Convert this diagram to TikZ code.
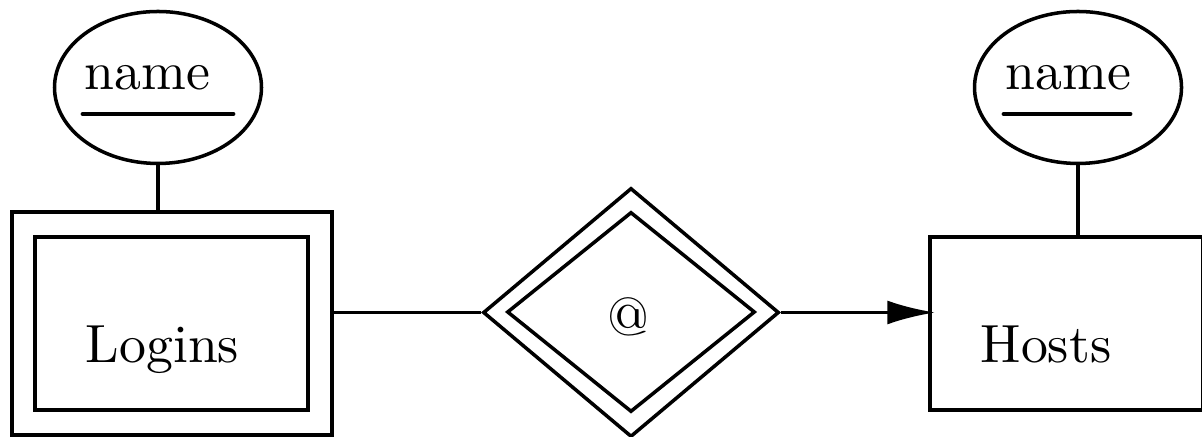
\documentclass[tikz,border=0pt]{standalone}
\usepackage{amsmath}
\usepackage{fontspec}
\newfontfamily\ermfont{lmroman10-regular.otf}
\usetikzlibrary{calc, arrows.meta, shapes.geometric}

\begin{document}
\begin{tikzpicture}[line width=1pt, font=\ermfont\fontsize{15.3}{18}\selectfont,
  attr/.style={draw, ellipse, inner sep=0pt, minimum width=2.07cm, minimum height=1.52cm},
  ent/.style={draw, rectangle, inner sep=0pt},
  rel/.style={draw, diamond, inner sep=0pt},
  lbl/.style={anchor=base west, inner sep=0pt}]
  \useasboundingbox (0,0) rectangle (12.02,4.37);
  % weak entity Logins (double box)
  \node[ent, minimum width=3.20cm, minimum height=2.23cm] (logins) at (1.72,1.135) {};
  \node[ent, minimum width=2.73cm, minimum height=1.73cm] (loginsin) at (1.715,1.135) {};
  \node[lbl] (loginstxt) at (0.84,0.74) {Logins};
  % entity Hosts, cut off at the right edge
  \node[ent, minimum width=2.73cm, minimum height=1.73cm] (hosts) at (10.665,1.135) {};
  \node[lbl] (hoststxt) at (9.79,0.74) {Hosts};
  % identifying relationship @
  \node[rel, minimum width=2.96cm, minimum height=2.49cm] (atrel) at (6.31,1.245) {};
  \node[rel, minimum width=2.48cm, minimum height=2.00cm] (atrelin) at (6.31,1.25) {};
  \node[anchor=base, inner sep=0pt] (attxt) at (6.28,1.01) {@};
  % key attributes
  \node[attr] (lname) at (1.58,3.495) {};
  \node[lbl] (lnametxt) at (0.83,3.47) {name};
  \draw[line width=1.4pt, line cap=round] ([yshift=-0.24cm]lnametxt.base west) -- ++(1.50,0);
  \node[attr] (rname) at (10.78,3.495) {};
  \node[lbl] (rnametxt) at (10.04,3.47) {name};
  \draw[line width=1.4pt, line cap=round] ([yshift=-0.24cm]rnametxt.base west) -- ++(1.26,0);
  % links
  \draw (lname.south) -- (lname.south |- logins.north);
  \draw (rname.south) -- (rname.south |- hosts.north);
  \draw (logins.east |- atrel.west) -- (atrel.west);
  \draw[-{Latex[length=4.8mm, width=2.4mm]}, shorten >=-0.07cm] (atrel.east) -- (atrel.east -| hosts.west);
\end{tikzpicture}
\end{document}
